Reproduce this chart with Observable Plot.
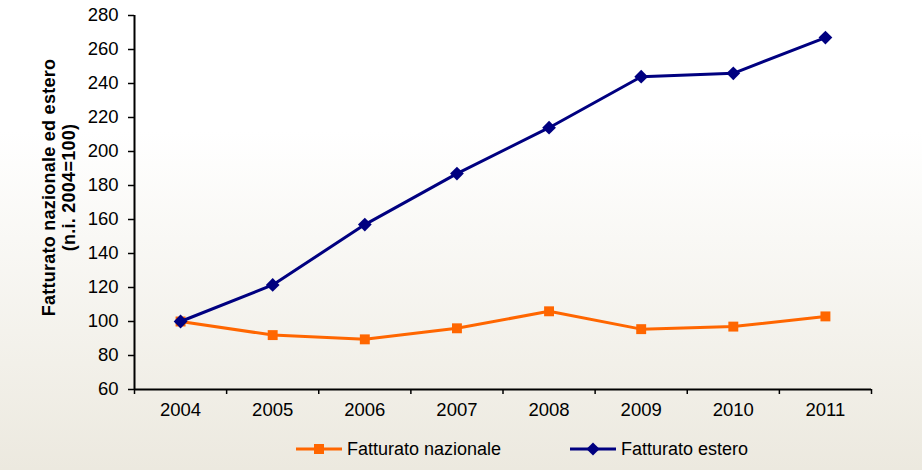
<!DOCTYPE html>
<html>
<head>
<meta charset="utf-8">
<script src="https://cdn.jsdelivr.net/npm/d3@7"></script>
<script src="https://cdn.jsdelivr.net/npm/@observablehq/plot@0.6"></script>
<style>
  html, body { margin: 0; padding: 0; }
  #wrap {
    position: relative; width: 922px; height: 470px; overflow: hidden;
    background: linear-gradient(to bottom, #ffffff 0%, #ffffff 28%, #ece9df 100%);
    font-family: "Liberation Sans", Arial, sans-serif;
  }
  .item {
    position: absolute; top: 437px; height: 24px;
    display: flex; align-items: center; font-size: 18px; color: #000; white-space: nowrap;
  }
  .item svg { margin-right: 4px; }
  .ytitle text { letter-spacing: 0.25px; }
</style>
</head>
<body>
<div id="wrap">
  <div id="chart"></div>
</div>
<script>
const years = [2004, 2005, 2006, 2007, 2008, 2009, 2010, 2011];
const nazionale = [100, 92, 89.5, 96, 106, 95.5, 97, 103];
const estero = [100, 121.5, 157, 187, 214, 244, 246, 267];
const yTicks = [60, 80, 100, 120, 140, 160, 180, 200, 220, 240, 260, 280];
const seriesNames = ["Fatturato nazionale", "Fatturato estero"];
const colors = ["#ff6600", "#000080"];
const yTitle = "Fatturato nazionale ed estero\n(n.i. 2004=100)";

const xDomain = [years[0] - 0.5, years[years.length - 1] + 0.5];
const boundaries = years.map(y => y - 0.5).concat([years[years.length - 1] + 0.5]);
const naz = years.map((y, i) => ({year: y, value: nazionale[i]}));
const est = years.map((y, i) => ({year: y, value: estero[i]}));

const plot = Plot.plot({
  width: 922,
  height: 425,
  marginTop: 15,
  marginLeft: 134,
  marginRight: 51,
  marginBottom: 36,
  style: {background: "transparent", fontFamily: "'Liberation Sans', Arial, sans-serif", fontSize: "18.5px", color: "#000"},
  x: {type: "linear", domain: xDomain},
  y: {domain: [60, 280]},
  marks: [
    Plot.axisY({ticks: yTicks, tickSize: 6, tickPadding: 10, tickFormat: d => String(d), label: null, fontSize: 18.5, stroke: "#000", strokeWidth: 1.5}),
    Plot.axisX({ticks: years, tickSize: 0, tickPadding: 13, tickFormat: d => String(d), label: null, fontSize: 18.5}),
    Plot.axisX({ticks: boundaries, tickSize: 5, tickFormat: () => "", label: null, stroke: "#000", strokeWidth: 1.5}),
    Plot.ruleX([xDomain[0]], {stroke: "#000", strokeWidth: 2}),
    Plot.ruleY([60], {stroke: "#000", strokeWidth: 2}),
    Plot.text([yTitle], {text: d => d, className: "ytitle", frameAnchor: "left", textAnchor: "middle", rotate: -90, dx: -76, dy: -15, fontWeight: "bold", fontSize: 18, lineHeight: 1.11, lineAnchor: "middle", fill: "#000"}),
    Plot.line(naz, {x: "year", y: "value", stroke: colors[0], strokeWidth: 3}),
    Plot.dot(naz, {x: "year", y: "value", symbol: "square", r: 5.6, fill: colors[0], stroke: "none"}),
    Plot.line(est, {x: "year", y: "value", stroke: colors[1], strokeWidth: 3}),
    Plot.dot(est, {x: "year", y: "value", symbol: "diamond2", r: 6.2, fill: colors[1], stroke: "none"})
  ]
});
document.getElementById("chart").appendChild(plot);

// legend
const wrap = d3.select("#wrap");
const symbols = [d3.symbolSquare, d3.symbolDiamond2];
const sizes = [100, 110];
const lefts = [295, 569];
seriesNames.forEach((name, i) => {
  const item = wrap.append("div").attr("class", "item").style("left", lefts[i] + "px");
  const svg = item.append("svg").attr("width", 48).attr("height", 16);
  svg.append("line").attr("x1", 1).attr("x2", 47).attr("y1", 8).attr("y2", 8)
    .attr("stroke", colors[i]).attr("stroke-width", 3);
  svg.append("path").attr("transform", "translate(24,8)")
    .attr("d", d3.symbol(symbols[i], sizes[i])()).attr("fill", colors[i]);
  item.append("span").text(name);
});
</script>
</body>
</html>
